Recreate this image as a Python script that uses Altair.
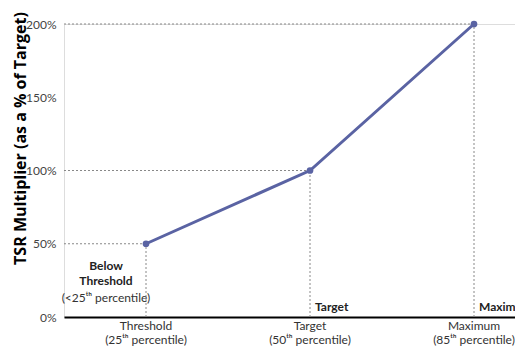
import altair as alt
import pandas as pd

categories = ["Threshold", "Target", "Maximum"]
percentiles = ["25ᵗʰ", "50ᵗʰ", "85ᵗʰ"]
positions = [1, 2, 3]
multipliers = [50, 100, 200]

ann_x = [0.756, 0.756, 0.756, 2, 3]
ann_y = [34.8, 24.6, 13.0, 6.8, 6.8]
ann_text = ["Below", "Threshold", "(<25ᵗʰ percentile)", "Target", "Maximum"]

FONT = "Lato, sans-serif"
LINE_COLOR = "#5A63A3"

df = pd.DataFrame({
    "pos": positions,
    "mult": multipliers,
    "cat": categories,
    "pct": [f"({p} percentile)" for p in percentiles],
    "start": [0.5] * 3,
    "zero": [0] * 3,
})

xs = alt.Scale(domain=[0.5, 3.25], nice=False, zero=False)
ys = alt.Scale(domain=[0, 200], nice=False)

base = alt.Chart(df)

hrules = base.mark_rule(color="#888", strokeDash=[2, 2], strokeWidth=1).encode(
    x=alt.X("start:Q", scale=xs, axis=alt.Axis(title=None, labels=False, ticks=False, grid=False,
                                               domainColor="black", domainWidth=2)),
    x2="pos:Q",
    y=alt.Y("mult:Q", scale=ys, axis=alt.Axis(
        title="TSR Multiplier (as a % of Target)", values=[0, 50, 100, 150, 200],
        labelExpr="datum.value + '%'", grid=False, ticks=False, domain=False,
        labelPadding=8, labelFont=FONT, labelFontSize=12, labelColor="#444",
        titleFont="Open Sans", titleFontSize=16, titleFontWeight="bold", titleColor="#000",
        titleX=-36, titleY=114)),
)
vrules = base.mark_rule(color="#888", strokeDash=[2, 2], strokeWidth=1).encode(
    x=alt.X("pos:Q", scale=xs), y=alt.Y("zero:Q", scale=ys), y2="mult:Q"
)
line = base.mark_line(color=LINE_COLOR, strokeWidth=3).encode(
    x=alt.X("pos:Q", scale=xs), y=alt.Y("mult:Q", scale=ys)
)
pts = base.mark_circle(color=LINE_COLOR, size=45, opacity=1).encode(
    x=alt.X("pos:Q", scale=xs), y=alt.Y("mult:Q", scale=ys)
)
xlab1 = base.mark_text(font=FONT, fontSize=12, color="#333").encode(
    x=alt.X("pos:Q", scale=xs), y=alt.value(302), text="cat:N"
)
xlab2 = base.mark_text(font=FONT, fontSize=12, color="#333").encode(
    x=alt.X("pos:Q", scale=xs), y=alt.value(316), text="pct:N"
)

ann_df = pd.DataFrame({"x": ann_x, "y": ann_y, "text": ann_text})
ann_bold_c = alt.Chart(ann_df.iloc[:2]).mark_text(
    font=FONT, fontSize=12, fontWeight="bold", color="#222"
).encode(x=alt.X("x:Q", scale=xs), y=alt.Y("y:Q", scale=ys), text="text:N")
ann_sub = alt.Chart(ann_df.iloc[2:3]).mark_text(
    font=FONT, fontSize=12, color="#333"
).encode(x=alt.X("x:Q", scale=xs), y=alt.Y("y:Q", scale=ys), text="text:N")
ann_right = alt.Chart(ann_df.iloc[3:]).mark_text(
    font=FONT, fontSize=12, fontWeight="bold", color="#222", align="left", dx=5
).encode(x=alt.X("x:Q", scale=xs), y=alt.Y("y:Q", scale=ys), text="text:N")

chart = alt.layer(hrules, vrules, line, pts, xlab1, xlab2, ann_bold_c, ann_sub, ann_right).properties(
    width=451, height=293,
    autosize=alt.AutoSizeParams(type="none"),
    padding={"left": 56, "top": 16, "right": 0, "bottom": 30},
).configure_view(stroke=None).configure(background="white")

chart.save("out.html", embed_options={"renderer": "svg", "actions": False})
